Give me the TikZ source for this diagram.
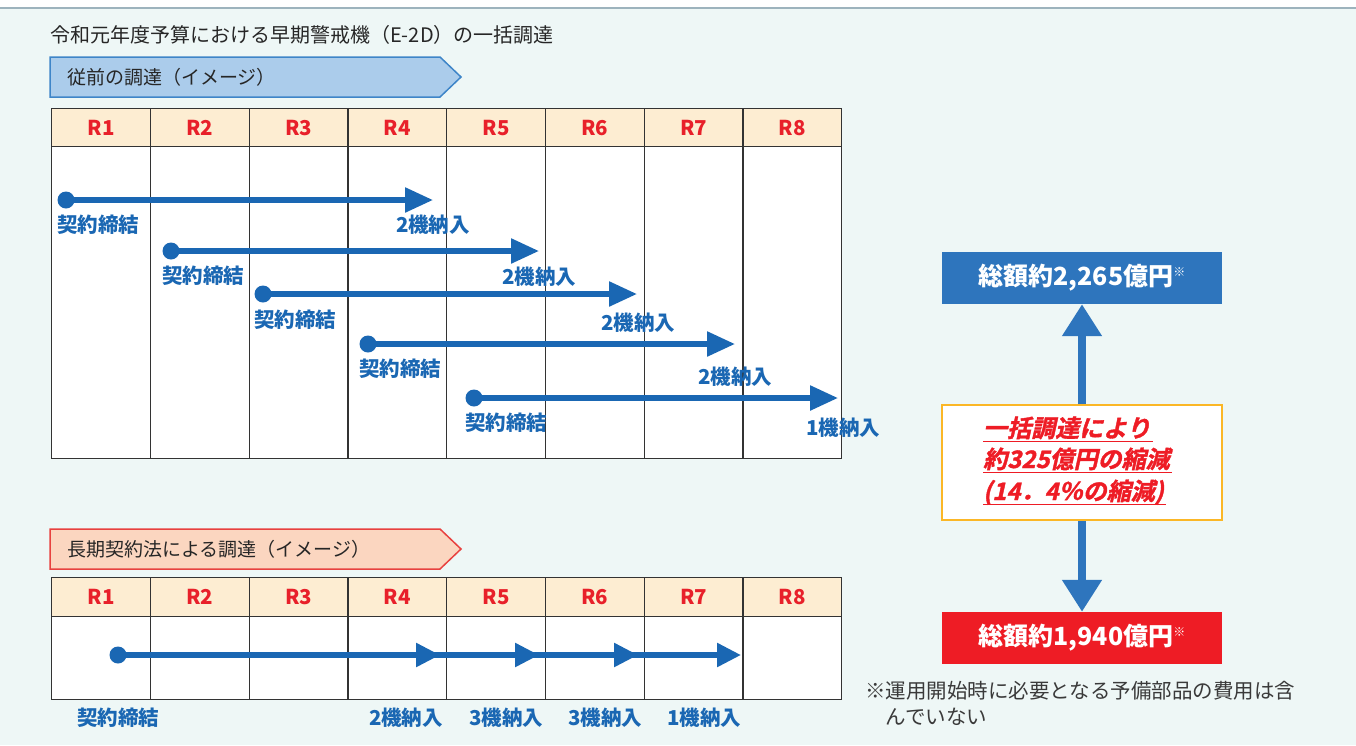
\documentclass[tikz,border=0pt]{standalone}
\usepackage{fontspec}
\setmainfont{Noto Sans CJK JP}
\newfontfamily\jpbi[FakeSlant=0.22,FakeBold=1.5]{Noto Sans CJK JP Bold}
\usetikzlibrary{arrows.meta}
\definecolor{bgmint}{HTML}{EEF7F6}
\definecolor{topline}{HTML}{9DB3BD}
\definecolor{tblue}{HTML}{1A67B3}
\definecolor{boxblue}{HTML}{2E75BD}
\definecolor{boxred}{HTML}{EE1C25}
\definecolor{hdrfill}{HTML}{FDEDD2}
\definecolor{hdrred}{HTML}{E8202A}
\definecolor{gridc}{HTML}{333333}
\definecolor{ban1fill}{HTML}{ABCCEB}
\definecolor{ban1line}{HTML}{3E85C8}
\definecolor{ban2fill}{HTML}{FBD6C0}
\definecolor{ban2line}{HTML}{E8413F}
\definecolor{orangeb}{HTML}{FBB726}
\definecolor{notec}{HTML}{3A3A3A}
\tikzset{
  hdr/.style={draw=gridc, line width=1.4pt, fill=hdrfill, minimum width=98.75pt, minimum height=38pt, anchor=north west, inner sep=0pt, font=\bfseries\fontsize{20.5}{24}\selectfont, text=hdrred},
  cellbox/.style={draw=gridc, line width=1.4pt, fill=white, minimum width=98.75pt, anchor=north west, inner sep=0pt},
  lbl/.style={font=\bfseries\fontsize{20.5}{24}\selectfont, text=tblue, inner sep=0pt},
  arr/.style={draw=tblue, line width=5.5pt, -{Triangle[length=28pt,width=24pt]}},
  arrb/.style={draw=tblue, line width=5.5pt, -{Triangle[length=24pt,width=23pt]}},
  shaft/.style={draw=tblue, line width=5.5pt},
  dotc/.style={circle, fill=tblue, minimum size=17pt, inner sep=0pt},
  bigarr/.style={draw=boxblue, line width=8pt, -{Triangle[length=32pt,width=38pt]}},
  totbox/.style={minimum width=280pt, minimum height=52pt, inner sep=0pt, text=white, font=\bfseries\fontsize{25}{28}\selectfont},
  midtxt/.style={anchor=base west, inner sep=0pt, text=boxred, font=\jpbi\fontsize{24}{28}\selectfont},
  bantxt/.style={anchor=west, inner sep=0pt, font=\fontsize{19}{22}\selectfont, text=black!85},
  uline/.style={draw=boxred, line width=1.6pt},
}
\newcommand{\kome}{{\fontsize{12}{12}\selectfont\raisebox{9pt}{※}}}
\begin{document}
\begin{tikzpicture}[x=1pt,y=-1pt]
\useasboundingbox (0,0) rectangle (1356,745);
\fill[white] (0,0) rectangle (1356,745);
\fill[bgmint] (0,8) rectangle (1356,745);
\draw[topline, line width=1.5pt] (0,8) -- (1356,8);

% title
\node[anchor=west, inner sep=0pt, font=\fontsize{20}{24}\selectfont, text=black!85] (title) at (50,35) {令和元年度予算における早期警戒機（E-2D）の一括調達};

% banner 1
\draw[ban1line, fill=ban1fill, line width=1.5pt] (50,57) -- (440,57) -- (461,77) -- (440,97) -- (50,97) -- cycle;
\node[bantxt] (ban1) at (67,77) {従前の調達（イメージ）};

% table 1
\foreach \i in {1,...,8} {
  \node[cellbox, minimum height=312pt] (b\i) at ({51+(\i-1)*98.75},146) {};
  \node[hdr] (h\i) at ({51+(\i-1)*98.75},108) {R\i};
}

% arrows table 1
\node[dotc] (s1) at (66,200) {};
\coordinate (e1) at (433,200);
\draw[arr] (s1.center) -- (e1);
\node[lbl, anchor=west] (c1) at (57,225) {契約締結};
\node[lbl] (d1) at (433,225) {2機納入};

\node[dotc] (s2) at (171,251) {};
\coordinate (e2) at (539,251);
\draw[arr] (s2.center) -- (e2);
\node[lbl, anchor=west] (c2) at (162,276) {契約締結};
\node[lbl] (d2) at (539,277) {2機納入};

\node[dotc] (s3) at (263,294) {};
\coordinate (e3) at (637,294);
\draw[arr] (s3.center) -- (e3);
\node[lbl, anchor=west] (c3) at (254,320) {契約締結};
\node[lbl] (d3) at (638,323) {2機納入};

\node[dotc] (s4) at (368,344) {};
\coordinate (e4) at (735,344);
\draw[arr] (s4.center) -- (e4);
\node[lbl, anchor=west] (c4) at (359,369) {契約締結};
\node[lbl] (d4) at (735,377) {2機納入};

\node[dotc] (s5) at (474,398) {};
\coordinate (e5) at (838,398);
\draw[arr] (s5.center) -- (e5);
\node[lbl, anchor=west] (c5) at (465,423) {契約締結};
\node[lbl] (d5) at (843,428) {1機納入};

% banner 2
\draw[ban2line, fill=ban2fill, line width=1.5pt] (50,529) -- (440,529) -- (461,549) -- (440,569) -- (50,569) -- cycle;
\node[bantxt] (ban2) at (67,549) {長期契約法による調達（イメージ）};

% table 2
\foreach \i in {1,...,8} {
  \node[cellbox, minimum height=83pt] (q\i) at ({51+(\i-1)*98.75},616) {};
  \node[hdr, minimum height=39pt] (p\i) at ({51+(\i-1)*98.75},577) {R\i};
}
\node[dotc] (t0) at (118,655) {};
\coordinate (t1) at (440,655);
\coordinate (t2) at (539,655);
\coordinate (t3) at (638,655);
\coordinate (t4) at (741,655);
\draw[shaft] (t0.center) -- ([xshift=-20pt]t4);
\draw[arrb] ([xshift=-30pt]t1) -- (t1);
\draw[arrb] ([xshift=-30pt]t2) -- (t2);
\draw[arrb] ([xshift=-30pt]t3) -- (t3);
\draw[arrb] ([xshift=-30pt]t4) -- (t4);
\node[lbl] (u0) at (118,718) {契約締結};
\node[lbl] (u1) at (406,718) {2機納入};
\node[lbl] (u2) at (506,718) {3機納入};
\node[lbl] (u3) at (605,718) {3機納入};
\node[lbl] (u4) at (704,718) {1機納入};

% right side
\node[totbox, fill=boxblue] (tot1) at (1082,278) {総額約2,265億円\kome};
\node[totbox, fill=boxred] (tot2) at (1082,638) {総額約1,940億円\kome};
\node[draw=orangeb, line width=2pt, fill=white, minimum width=280pt, minimum height=115pt, inner sep=0pt] (mid) at (1082,462.5) {};
\draw[bigarr] (mid.north) -- (tot1.south);
\draw[bigarr] (mid.south) -- (tot2.north);

\node[midtxt] (m1) at (983,437) {一括調達により};
\node[midtxt] (m2) at (983,468) {約325億円の縮減};
\node[midtxt] (m3) at (983,500) {(14．4％の縮減)};
\draw[uline] ([yshift=-4.5pt]m1.base west) -- ([yshift=-4.5pt,xshift=2pt]m1.base east);
\draw[uline] ([yshift=-4.5pt]m2.base west) -- ([yshift=-4.5pt,xshift=2pt]m2.base east);
\draw[uline] ([yshift=-4.5pt]m3.base west) -- ([yshift=-4.5pt,xshift=2pt]m3.base east);

% note
\node[anchor=north west, inner sep=0pt, align=left, font=\fontsize{20.5}{26}\selectfont, text=notec] (note) at (865,681) {※運用開始時に必要となる予備部品の費用は含\\\hspace{1em}んでいない};
\end{tikzpicture}
\end{document}
